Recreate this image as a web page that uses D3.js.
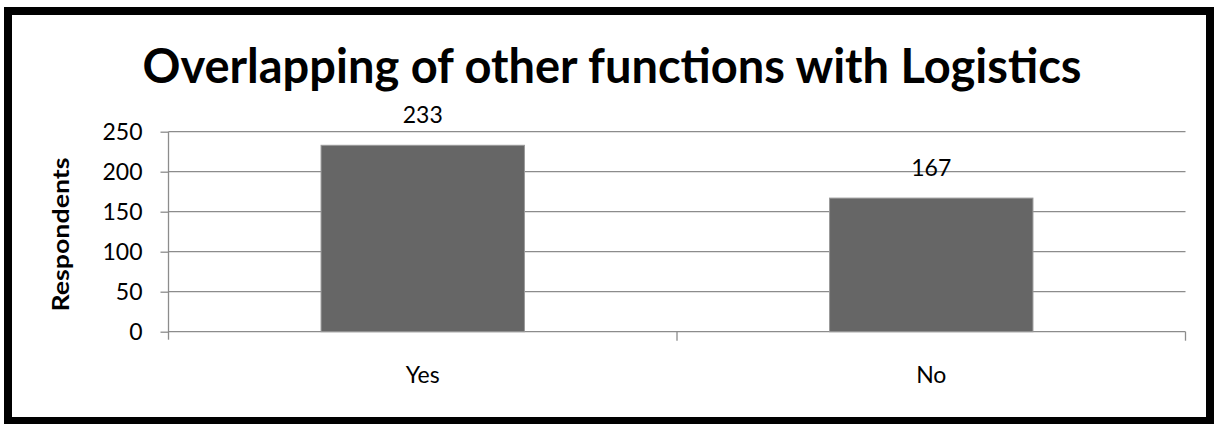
<!DOCTYPE html>
<html>
<head>
<meta charset="utf-8">
<script src="https://cdn.jsdelivr.net/npm/d3@7"></script>
<style>
  html, body { margin: 0; padding: 0; background: #fff; }
  svg { display: block; }
  text { font-family: Lato, "Open Sans", sans-serif; }
</style>
</head>
<body>
<script>
const categories = ["Yes", "No"];
const values = [233, 167];
const yTicks = [0, 50, 100, 150, 200, 250];
const chartTitle = "Overlapping of other functions with Logistics";
const yTitle = "Respondents";

(function () {
const W = 1214, H = 424;
const FONT = "Lato, 'Open Sans', sans-serif";
const svg = d3.select("body").append("svg").attr("width", W).attr("height", H);

svg.append("rect").attr("width", W).attr("height", H).attr("fill", "#fff");
svg.append("rect")
  .attr("x", 8).attr("y", 11).attr("width", 1202).attr("height", 410)
  .attr("fill", "#fff").attr("stroke", "#000").attr("stroke-width", 8);

const pLeft = 168.5, pRight = 1185.5, pTop = 131.7, pBottom = 331.7;

const x = d3.scaleBand().domain(categories).range([pLeft, pRight])
  .paddingInner(0.6).paddingOuter(0.3);
const xCat = d3.scaleBand().domain(categories).range([pLeft, pRight]);
const y = d3.scaleLinear().domain([0, 250]).range([pBottom, pTop]);

// gridlines
svg.append("g").selectAll("line").data(yTicks.filter(d => d > 0)).join("line")
  .attr("x1", pLeft).attr("x2", pRight)
  .attr("y1", d => y(d)).attr("y2", d => y(d))
  .attr("stroke", "#8c8c8c").attr("stroke-width", 1.3);

// y axis
const yAxis = svg.append("g").attr("transform", `translate(${pLeft},0)`)
  .call(d3.axisLeft(y).tickValues(yTicks).tickSize(8).tickPadding(18));
yAxis.select(".domain").attr("stroke", "#8c8c8c").attr("stroke-width", 1.3)
  .attr("d", `M0,${pTop}V${pBottom + 8}`);
yAxis.selectAll(".tick line").attr("stroke", "#8c8c8c").attr("stroke-width", 1.3);
yAxis.selectAll(".tick text").attr("font-size", 23).attr("fill", "#000")
  .attr("font-family", FONT);

// x axis
const xAxis = svg.append("g").attr("transform", `translate(0,${pBottom})`)
  .call(d3.axisBottom(xCat).tickSize(0).tickPadding(35));
xAxis.select(".domain").attr("stroke", "#8c8c8c").attr("stroke-width", 1.3)
  .attr("d", `M${pLeft},0H${pRight}`);
xAxis.selectAll(".tick text").attr("font-size", 23).attr("fill", "#000")
  .attr("font-family", FONT);
// category boundary ticks
svg.append("g").selectAll("line")
  .data(categories).join("line")
  .attr("x1", d => xCat(d) + xCat.bandwidth()).attr("x2", d => xCat(d) + xCat.bandwidth())
  .attr("y1", pBottom).attr("y2", pBottom + 9)
  .attr("stroke", "#8c8c8c").attr("stroke-width", 1.3);

// bars
svg.append("g").selectAll("rect").data(values).join("rect")
  .attr("x", (d, i) => x(categories[i]))
  .attr("y", d => y(d))
  .attr("width", x.bandwidth())
  .attr("height", d => pBottom - y(d))
  .attr("fill", "#666666")
  .attr("stroke", "#9a9a9a").attr("stroke-width", 1);

// value labels
svg.append("g").selectAll("text").data(values).join("text")
  .attr("x", (d, i) => x(categories[i]) + x.bandwidth() / 2)
  .attr("y", d => y(d) - 22)
  .attr("text-anchor", "middle")
  .attr("font-size", 23).attr("fill", "#000")
  .text(d => d);

// title
svg.append("text").attr("x", 612).attr("y", 83)
  .attr("text-anchor", "middle").attr("font-size", 47).attr("font-weight", "bold")
  .attr("fill", "#000").text(chartTitle);

// y title
svg.append("text")
  .attr("transform", `translate(69,234.5) rotate(-90)`)
  .attr("text-anchor", "middle").attr("font-size", 23).attr("font-weight", "bold")
  .attr("textLength", 154).attr("lengthAdjust", "spacingAndGlyphs")
  .attr("fill", "#000").text(yTitle);
})();
</script>
</body>
</html>
